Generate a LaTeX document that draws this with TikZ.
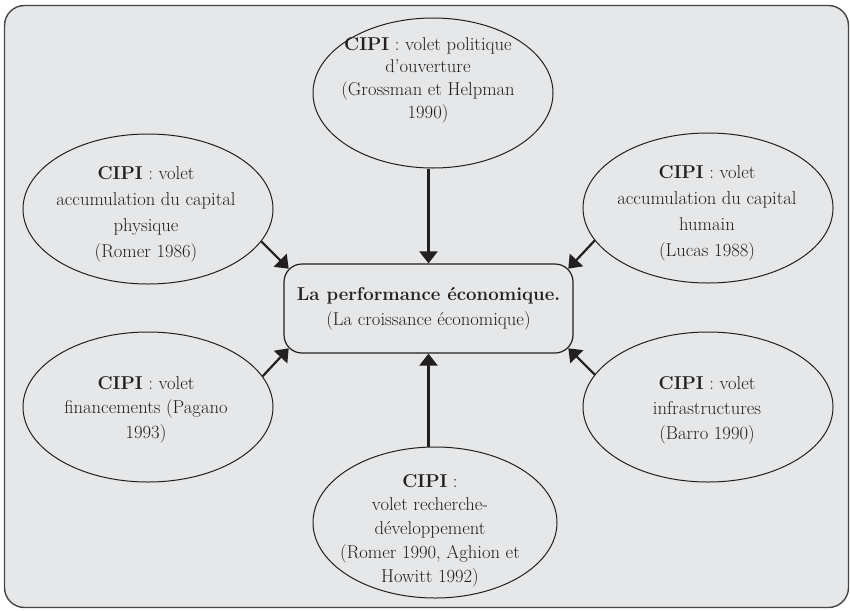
\documentclass[tikz,border=0pt]{standalone}
\usepackage{fontspec}
\usetikzlibrary{shapes.geometric,arrows.meta}
\definecolor{bg}{HTML}{E6E7E8}
\definecolor{ink}{HTML}{231F20}
\definecolor{framec}{HTML}{454545}
\begin{document}
\begin{tikzpicture}[x=1pt,y=-1pt,
  txt/.style={font=\fontsize{18.6}{#1}\selectfont, text=ink, align=center, inner sep=0pt},
  txt/.default=24,
  oval/.style={ellipse, draw=ink, line width=1pt, minimum width=250pt, minimum height=150pt, inner sep=0pt},
  centerbox/.style={rectangle, rounded corners=18pt, draw=ink, line width=1.2pt,
    minimum width=289pt, minimum height=89pt, inner sep=0pt,
    font=\fontsize{18.6}{25}\selectfont, text=ink, align=center},
  arr/.style={draw=ink, line width=2.2pt, -{Triangle[length=12pt,width=18pt]}}
]
\useasboundingbox (0,0) rectangle (850,610);
\draw[draw=framec, line width=1.4pt, fill=bg, rounded corners=20pt] (4.5,5.5) rectangle (848.5,607.5);

% central box
\node[centerbox] (box) at (428.5,308.5) {\textbf{La performance économique.}\\(La croissance économique)};

% ellipses
\node[oval, minimum width=240pt, minimum height=150pt] (top) at (433,93) {};
\node[txt=22.7] (topt) at (428,80) {\textbf{CIPI} : volet politique\\d’ouverture\\(Grossman et Helpman\\1990)};

\node[oval] (tl) at (148,209) {};
\node[txt=26] (tlt) at (146,214) {\textbf{CIPI} : volet\\accumulation du capital\\physique\\(Romer 1986)};

\node[oval] (tr) at (708,208) {};
\node[txt=26] (trt) at (707,213) {\textbf{CIPI} : volet\\accumulation du capital\\humain\\(Lucas 1988)};

\node[oval] (bl) at (148,407) {};
\node[txt=24.5] (blt) at (146,409.5) {\textbf{CIPI} : volet\\financements (Pagano\\1993)};

\node[oval] (br) at (708,407) {};
\node[txt=25] (brt) at (707,410) {\textbf{CIPI} : volet\\infrastructures\\(Barro 1990)};

\node[oval, minimum width=244pt, minimum height=151pt] (bot) at (435,522.5) {};
\node[txt=23.75] (bott) at (430,530.5) {\textbf{CIPI} :\\volet recherche-\\développement\\(Romer 1990, Aghion et\\Howitt 1992)};

% arrow tip points on the rounded corners of the box
\coordinate (tipTL) at ([shift={(5.3,5.3)}]box.north west);
\coordinate (tipTR) at ([shift={(-5.3,5.3)}]box.north east);
\coordinate (tipBL) at ([shift={(5.3,-5.3)}]box.south west);
\coordinate (tipBR) at ([shift={(-5.3,-5.3)}]box.south east);

% connectors
\draw[arr] (top.south -| box.north) -- (box.north);
\draw[arr] (bot.north -| box.south) -- (box.south);
\draw[arr] (tl.-16) -- (tipTL);
\draw[arr] (tr.196) -- (tipTR);
\draw[arr] (bl.15.5) -- (tipBL);
\draw[arr] (br.164.5) -- (tipBR);
\end{tikzpicture}
\end{document}
